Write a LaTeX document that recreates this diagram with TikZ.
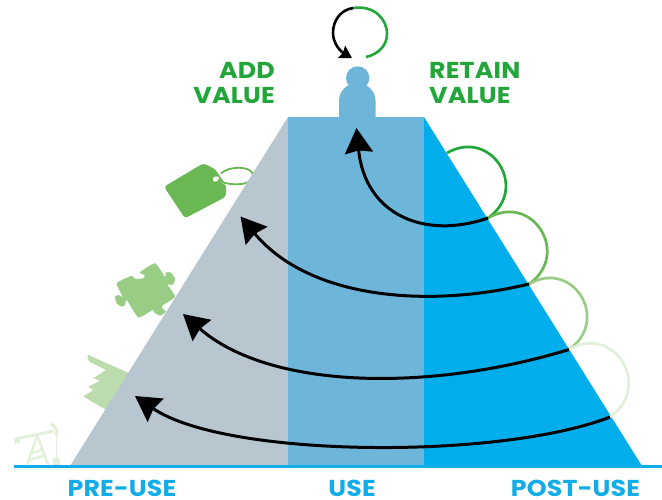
\documentclass[tikz,border=0pt]{standalone}
\usepackage{fontspec}
\setmainfont{Poppins}[FakeStretch=1.1,LetterSpace=0.8]
\usetikzlibrary{arrows.meta}
\definecolor{gA}{HTML}{22A63A}
\definecolor{gB}{HTML}{6AB854}
\definecolor{gC}{HTML}{99CC85}
\definecolor{gD}{HTML}{BCDCAE}
\definecolor{gE}{HTML}{E2EFDB}
\definecolor{bL}{HTML}{B8C7CF}
\definecolor{bM}{HTML}{6DB6D9}
\definecolor{bR}{HTML}{00AEEB}
\definecolor{bT}{HTML}{12ADE8}
\tikzset{
  head/.style={inner sep=0pt,font=\bfseries\fontsize{23}{23}\selectfont,text=gA},
  foot/.style={inner sep=0pt,font=\bfseries\fontsize{23}{23}\selectfont,text=bT},
  flow/.style={line width=3pt,black,-{Stealth[length=25pt,width=28pt,inset=2.5pt]}},
  loopa/.style={line width=2.7pt,out=30,in=35,looseness=1.7}
}
\begin{document}
\begin{tikzpicture}[x=1pt,y=-1pt]
\useasboundingbox (0,0) rectangle (662,499);
% pump jack
\fill[gE] (14,438.3) -- (19.3,436.7) -- (53.3,429.5) -- (53.8,432.5) -- (20,439.5) -- (20,442.7) -- (15,444) -- cycle;
\draw[gE,line width=3.2pt] (50.7,424) .. controls (55,426) and (58,430) .. (56.7,435);
\draw[gE,line width=1.3pt] (56.7,433) -- (56.7,458.5);
\fill[gE] (53.3,458) rectangle (60,465);
\draw[gE,line width=2.2pt] (37.3,435.5) -- (26.7,465) (37.3,435.5) -- (48.3,465) (31.7,453.3) -- (43.3,449) (29,460) -- (46,455);
% factory
\fill[gD] (88.3,355) -- (87.3,357.3) -- (89.3,361.7) -- (106,370) -- (93.3,378.3) -- (100,380.7) -- (88.3,386.7) -- (93.3,390) -- (83.3,396.5) -- (105,409.3) -- (135,400) -- (128.3,372.7) -- cycle;
% puzzle piece
\fill[gC] plot[smooth cycle,tension=0.3] coordinates {(116.7,283.3) (131.7,275.7) (134,278.3) (139.3,279) (144.3,277.7) (144.3,275) (140,272.3) (155,263.3) (165,276.7) (166,272.3) (171,272.7) (175.3,279) (172.3,285) (167.3,284.3) (175,296.7) (163.3,305) (161.7,307.7) (166,311.7) (160,315.7) (154,312.3) (152.7,310) (138.3,317.3) (126.7,300) (125,305) (121.7,306.7) (116.7,303.3) (115,296.7) (118.3,295) (122.7,296.7)};
% tag
\fill[gB,rounded corners=3pt] (203.3,163.3) -- (164,186.7) -- (185,218.3) -- (226,196.7) -- (226,185) -- (215,169) -- cycle;
\fill[white,rotate around={20:(216,179)}] (216,179) ellipse[x radius=3.4,y radius=2.6];
\draw[white,line width=1.2pt] (216,179) -- (226,184.5);
\draw[gB,line width=1.8pt] (221,173.5) .. controls (228,166) and (252,165) .. (253.3,175.5) .. controls (254,186) and (228,186.5) .. (218,180);
% pyramid
\fill[bL] (70,466) -- (288,117) -- (288,466) -- cycle;
\fill[bM] (288,117) rectangle (424,466);
\fill[bR] (424,117) -- (642,466) -- (424,466) -- cycle;
% person
\fill[bM] (339,118) -- (339,101) .. controls (339,91) and (347,83) .. (357.3,83) .. controls (367,83) and (375.6,91) .. (375.6,101) -- (375.6,118) -- cycle;
\fill[bM] (357.7,78) circle[radius=11.7];
% ground line
\draw[bT,line width=3pt] (14,466) -- (662,466);
% anchor points
\coordinate (p1) at (447,153);
\coordinate (p2) at (488,218);
\coordinate (p3) at (529,284);
\coordinate (p4) at (569,349.5);
\coordinate (p5) at (610,417);
\coordinate (t1) at (356.5,128);
\coordinate (t2) at (240.5,216.5);
\coordinate (t3) at (183,314);
\coordinate (t4) at (135,396);
\coordinate (ltop) at (353,8);
\coordinate (lb) at (352,58);
\coordinate (lg) at (366,57);
% value loops
\draw[gA,loopa] (p1) to (p2);
\draw[gB,loopa] (p2) to (p3);
\draw[gC,loopa] (p3) to (p4);
\draw[gE,loopa] (p4) to (p5);
% flow arrows
\draw[flow] (p2) .. controls (425,240) and (365,215) .. (t1);
\draw[flow] (p3) .. controls (430,308) and (310,300) .. (t2);
\draw[flow] (p4) .. controls (430,392) and (270,390) .. (t3);
\draw[flow] (p5) .. controls (500,460) and (225,458) .. (t4);
% top loop
\draw[gA,line width=2.6pt] (ltop) .. controls (373,5) and (387,18) .. (387,34) .. controls (387,45) and (379,54) .. (lg);
\draw[black,line width=2.6pt,-{Stealth[length=12pt,width=14pt,inset=1.5pt]}] (ltop) .. controls (340,10) and (333,21) .. (333,33) .. controls (333,43) and (340,51) .. (lb);
% labels
\node[head,anchor=base east] (add) at (275,78) {ADD};
\node[head,anchor=base east] (addv) at (275,103) {VALUE};
\node[head,anchor=base west] (ret) at (429,78) {RETAIN};
\node[head,anchor=base west] (retv) at (429,103) {VALUE};
\node[foot,anchor=base] (pre) at (122,496) {PRE-USE};
\node[foot,anchor=base] (use) at (352,496) {USE};
\node[foot,anchor=base] (post) at (575.5,496) {POST-USE};
\end{tikzpicture}
\end{document}
